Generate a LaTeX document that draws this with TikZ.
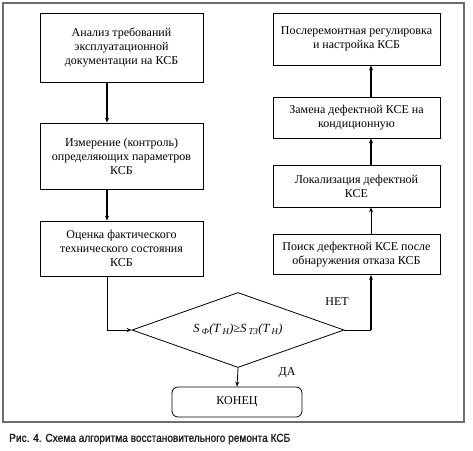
\documentclass[tikz,border=0pt]{standalone}
\usepackage{fontspec}
\setmainfont{Liberation Serif}
\newfontfamily\capfont[FakeStretch=0.88,FakeBold=1.2]{Liberation Sans}
\usepackage{tikz}
\usetikzlibrary{positioning,shapes.geometric,arrows.meta}
\definecolor{framegrey}{HTML}{6E6E6E}
\definecolor{capdark}{HTML}{1C1C24}

\begin{document}
\begin{tikzpicture}[x=1pt, y=-1pt,
  blockbox/.style={draw=black, line width=0.8pt, align=center, inner sep=2pt, font=\fontsize{12}{14}\selectfont},
  flowarr/.style={-{Stealth[length=5pt,width=4pt]}, line width=0.8pt},
  flowthick/.style={-{Stealth[length=5pt,width=4pt]}, line width=1.6pt},
]
\useasboundingbox (0,0) rectangle (473,450);
% outer frame
\draw[framegrey, line width=1.2pt] (3,3) rectangle (464,422);

% left column
\node[blockbox, minimum width=163, minimum height=69] (anal) at (121.5,47.5) {Анализ требований\\эксплуатационной\\документации на КСБ};
\node[blockbox, minimum width=163, minimum height=66] (izmer) at (121.5,156) {Измерение (контроль)\\определяющих параметров\\КСБ};
\node[blockbox, minimum width=163, minimum height=55] (ocenka) at (121.5,248.5) {Оценка фактического\\технического состояния\\КСБ};

% right column
\node[blockbox, minimum width=167, minimum height=52] (nastr) at (356.5,39) {Послеремонтная регулировка\\и настройка КСБ};
\node[blockbox, minimum width=167, minimum height=41] (zamena) at (356.5,117.5) {Замена дефектной КСЕ на\\кондиционную};
\node[blockbox, minimum width=167, minimum height=42] (lokal) at (356.5,186) {Локализация дефектной\\КСЕ};
\node[blockbox, minimum width=167, minimum height=40] (poisk) at (356.5,254.5) {Поиск дефектной КСЕ после\\обнаружения отказа КСБ};

% decision and end
\node[blockbox, shape=diamond, aspect=2.8, inner sep=0pt, minimum width=212, minimum height=75, font=\fontsize{12.5}{14}\selectfont] (usl) at (238,330) {\raisebox{4pt}{\itshape S\,\textsubscript{Ф}(T\,\textsubscript{Н})≥S\,\textsubscript{ТЗ}(T\,\textsubscript{Н})}};
\node[blockbox, rounded corners=6pt, minimum width=130, minimum height=30] (konec) at (237,402) {КОНЕЦ};

\node[font=\fontsize{12}{14}\selectfont] (net) at (337,302) {НЕТ};
\node[font=\fontsize{12}{14}\selectfont] (da) at (287,373) {ДА};

% connectors
\coordinate (lx) at (107,0);
\coordinate (rx) at (371,0);
\draw[flowthick] (anal.south -| lx) -- (izmer.north -| lx);
\draw[flowthick] (izmer.south -| lx) -- (ocenka.north -| lx);
\draw[flowarr] (ocenka.south -| lx) |- (usl.west);
\draw[flowarr] (usl.south) -- (konec.north);
\draw[line width=0.8pt] (usl.east) -- (usl.east -| rx);
\draw[flowthick] (usl.east -| rx) -- (poisk.south -| rx);
\draw[flowarr] (poisk.north -| rx) -- (lokal.south -| rx);
\draw[flowthick] (lokal.north -| rx) -- (zamena.south -| rx);
\draw[flowthick] (zamena.north -| rx) -- (nastr.south -| rx);

% caption
\node[anchor=west, inner sep=0pt, text=capdark, font=\capfont\fontsize{11.5}{13}\selectfont] (cap) at (9,439) {Рис. 4. Схема алгоритма восстановительного ремонта КСБ};
\end{tikzpicture}
\end{document}
